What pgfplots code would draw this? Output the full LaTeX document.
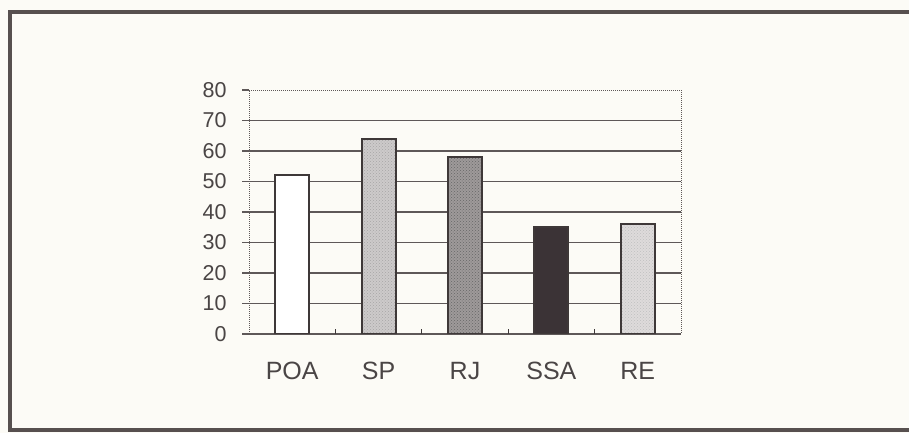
\documentclass[border=0pt]{standalone}
\usepackage{pgfplots}
\pgfplotsset{compat=1.18}
\usepackage{fontspec}
\setmainfont{Liberation Sans}
\usetikzlibrary{patterns}
\definecolor{bg}{HTML}{FCFBF6}
\definecolor{frame}{HTML}{57504F}
\definecolor{ink}{HTML}{3E3838}
\definecolor{gridc}{HTML}{5E5858}
\definecolor{txt}{HTML}{4A4545}
\definecolor{spc}{HTML}{CDCACA}
\definecolor{rjc}{HTML}{9E9A9A}
\definecolor{ssac}{HTML}{3B3336}
\definecolor{rec}{HTML}{DEDBDB}
\begin{document}
\begin{tikzpicture}
\path[use as bounding box, fill=bg] (0pt,0pt) rectangle (909pt,433pt);
\draw[frame, line width=4pt] (915pt,420.5pt) -- (10pt,420.5pt) -- (10pt,2.5pt) -- (915pt,2.5pt);
\begin{axis}[
  at={(249pt,99pt)}, anchor=south west, scale only axis,
  width=432pt, height=244pt,
  xmin=-0.5, xmax=4.5, ymin=0, ymax=80,
  ybar, bar width=34pt, bar shift=0pt,
  ytick={0,10,...,70},
  extra y ticks={80},
  extra y tick style={ymajorgrids=false},
  ytick pos=left, xtick pos=bottom,
  xtick={0,...,4}, xticklabels={POA,SP,RJ,SSA,RE},
  extra x ticks={0.5,1.5,2.5,3.5}, extra x tick labels={},
  extra x tick style={tick align=inside, major tick length=5pt, xtick style={draw=ink, line width=0.9pt}},
  axis line style={gridc, densely dotted, line width=1pt},
  ymajorgrids, grid style={gridc, solid, line width=1.3pt},
  tick align=outside, major tick length=7pt,
  ytick style={gridc, solid, line width=1.3pt},
  xtick style={draw=none},
  yticklabel style={font=\fontsize{21.5}{24}\selectfont, text=txt, xshift=-12pt},
  xticklabel style={font=\fontsize{25}{28}\selectfont, text=txt, yshift=-18pt},
  /pgf/number format/assume math mode=true,
]
\addplot[draw=ink, line width=2pt, fill=white] coordinates {(0,52)};
\addplot[draw=ink, line width=2pt, fill=spc, postaction={pattern=crosshatch dots, pattern color=gray!70}] coordinates {(1,64)};
\addplot[draw=ink, line width=2pt, fill=rjc, postaction={pattern=crosshatch dots, pattern color=gray!80!black}] coordinates {(2,58)};
\addplot[draw=ink, line width=2pt, fill=ssac] coordinates {(3,35)};
\addplot[draw=ink, line width=2pt, fill=rec, postaction={pattern=crosshatch dots, pattern color=gray!50}] coordinates {(4,36)};
\end{axis}
\end{tikzpicture}
\end{document}
